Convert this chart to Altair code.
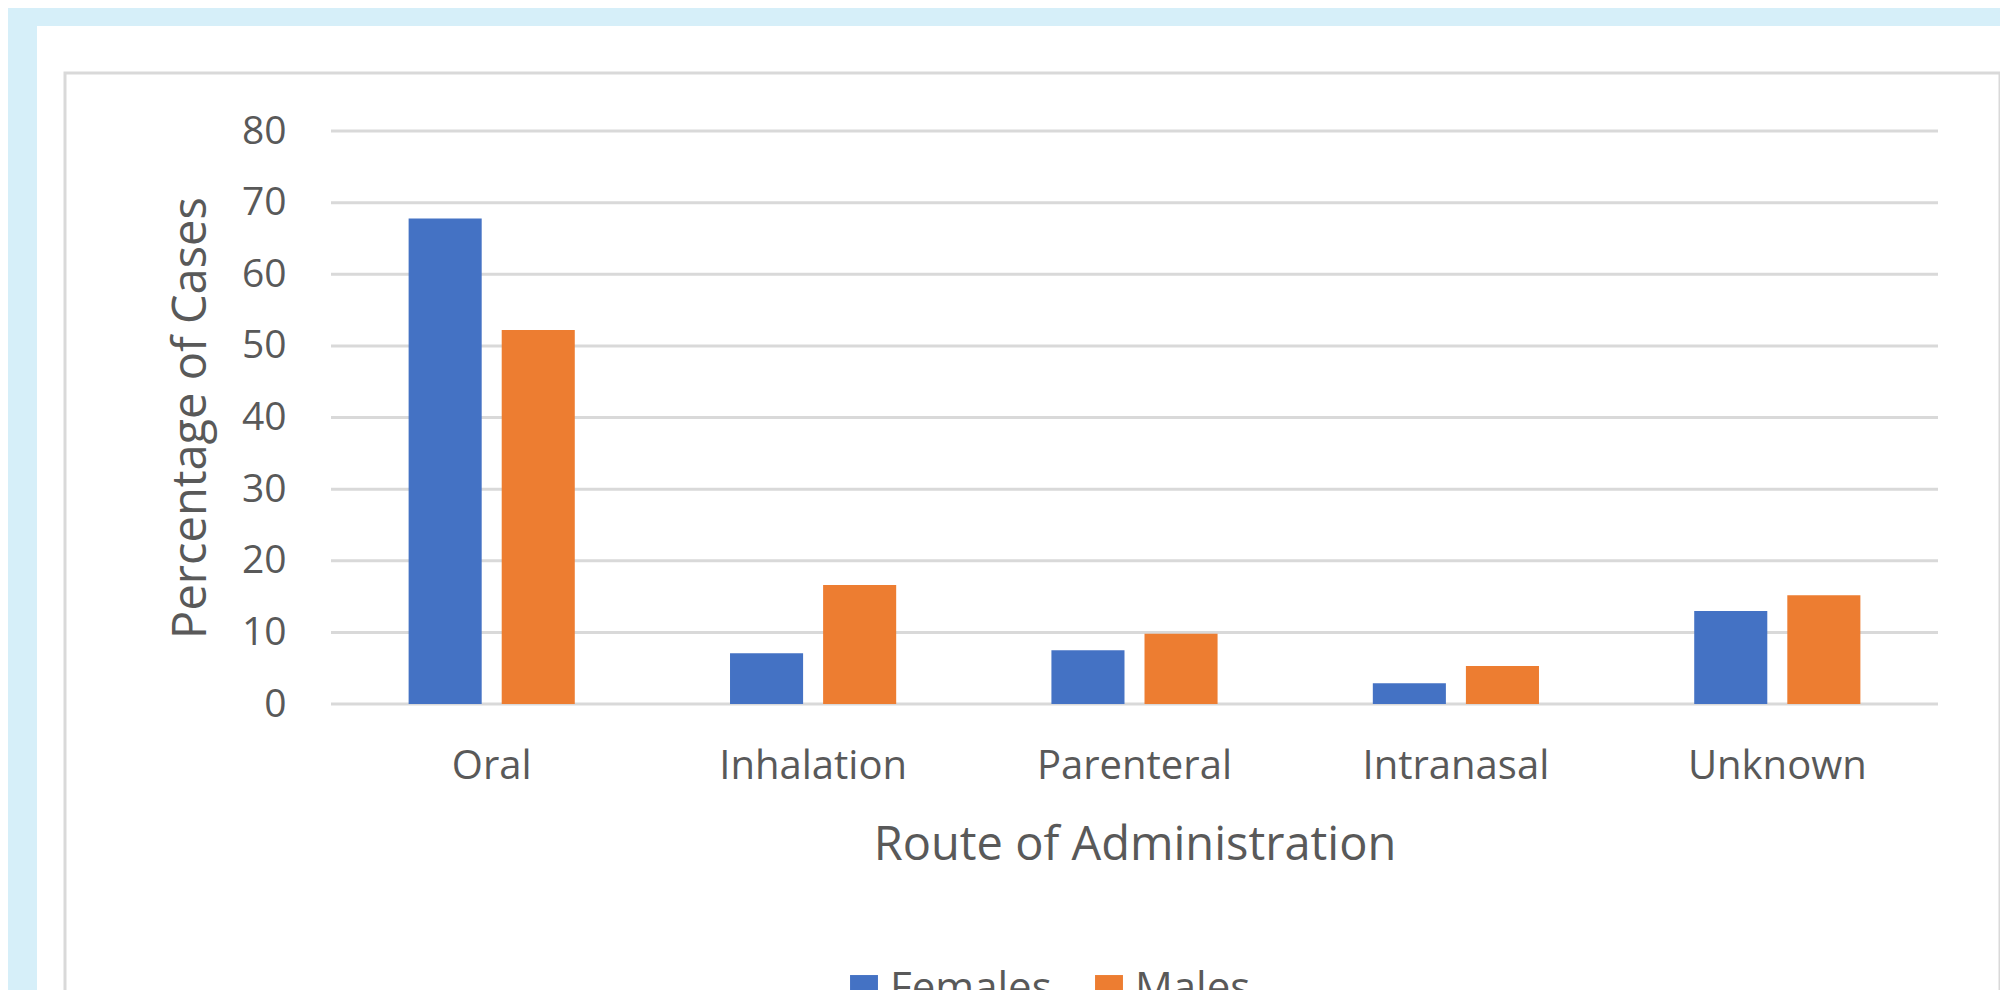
import altair as alt
import pandas as pd

# Data
routes = ["Oral", "Inhalation", "Parenteral", "Intranasal", "Unknown"]
females = [67.8, 7.1, 7.5, 2.9, 13.0]
males = [52.2, 16.6, 9.8, 5.3, 15.2]
groups = ["Females", "Males"]
y_ticks = [0, 10, 20, 30, 40, 50, 60, 70, 80]
colors = ["#4472C4", "#ED7D31"]

rows = []
for r, f, m in zip(routes, females, males):
    rows.append({"Route": r, "Sex": "Females", "Value": f})
    rows.append({"Route": r, "Sex": "Males", "Value": m})
df = pd.DataFrame(rows)
grid_df = pd.DataFrame({"Value": y_ticks})

TEXT = "#595959"
GRID = "#d9d9d9"

one = pd.DataFrame({"k": [0]})

# decorative chart-area panel and border (Excel-style frame)
panel = alt.Chart(one).mark_rect(fill="white").encode(
    x=alt.value(-294), x2=alt.value(1700), y=alt.value(-105), y2=alt.value(900)
)
frame = alt.Chart(one).mark_rect(filled=False, stroke=GRID, strokeWidth=3).encode(
    x=alt.value(-266), x2=alt.value(1669), y=alt.value(-58), y2=alt.value(900)
)

y_scale = alt.Scale(domain=[0, 80], nice=False)

gridlines = alt.Chart(grid_df).mark_rule(color=GRID, strokeWidth=3).encode(
    y=alt.Y("Value:Q", scale=y_scale)
)

bars = alt.Chart(df).mark_bar().encode(
    x=alt.X(
        "Route:N",
        sort=routes,
        scale=alt.Scale(paddingInner=0.483, paddingOuter=0.2415),
        axis=alt.Axis(
            title="Route of Administration",
            labelAngle=0,
            labelFontSize=40,
            labelPadding=42,
            labelLimit=600,
            titleFontSize=47,
            titlePadding=36,
            ticks=False,
            domain=False,
            grid=False,
            zindex=1,
        ),
    ),
    xOffset=alt.XOffset(
        "Sex:N", sort=groups, scale=alt.Scale(paddingInner=0.215, paddingOuter=0)
    ),
    y=alt.Y(
        "Value:Q",
        scale=y_scale,
        axis=alt.Axis(
            title="Percentage of Cases",
            values=y_ticks,
            labelFontSize=39,
            labelPadding=45,
            titleFontSize=47,
            titlePadding=26,
            ticks=False,
            tickSize=0,
            domain=False,
            grid=False,
            zindex=1,
        ),
    ),
    color=alt.Color(
        "Sex:N",
        sort=groups,
        scale=alt.Scale(domain=groups, range=colors),
        legend=alt.Legend(
            title=None,
            orient="none",
            direction="horizontal",
            legendX=512,
            legendY=837,
            symbolType="square",
            symbolSize=780,
            symbolStrokeWidth=0,
            labelFontSize=42,
            labelColor=TEXT,
            labelOffset=5,
            labelLimit=400,
            columnPadding=36,
        ),
    ),
)

chart = (
    alt.layer(panel, frame, gridlines, bars)
    .properties(
        width=1607,
        height=573,
        autosize=alt.AutoSizeParams(type="none"),
        padding={"left": 323, "top": 123, "right": 62, "bottom": 286},
        background="#d6eff9",
    )
    .configure(font="Open Sans")
    .configure_view(stroke=None)
    .configure_axis(
        labelColor=TEXT,
        titleColor=TEXT,
        titleFontWeight="normal",
        labelFont="Open Sans",
        titleFont="Open Sans",
    )
    .configure_legend(labelFont="Open Sans")
)

chart.save("out.html", embed_options={"renderer": "svg", "actions": False})
